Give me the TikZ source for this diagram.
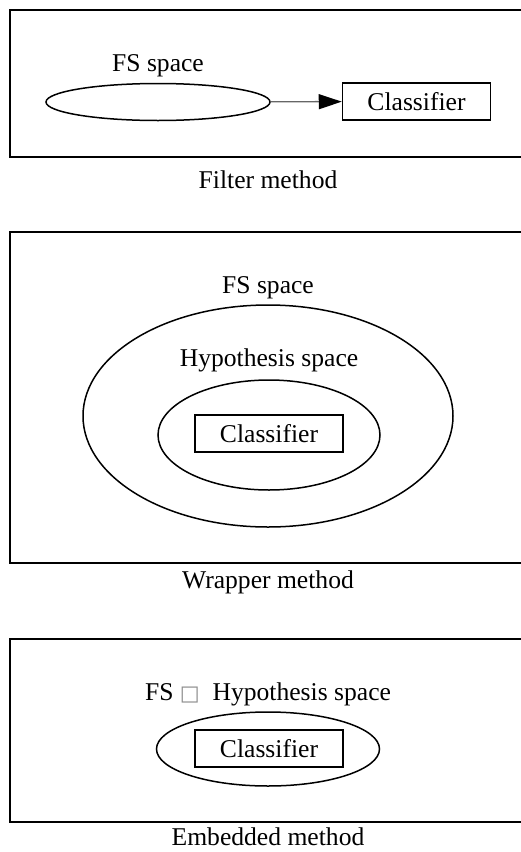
\documentclass[tikz,border=0pt]{standalone}
\usepackage{fontspec}
\setmainfont{Liberation Serif}
\newfontfamily\symfont{DejaVu Sans}
\usetikzlibrary{shapes.geometric,arrows.meta}
\begin{document}
\begin{tikzpicture}[x=1pt,y=-1pt,
  frame/.style={draw,line width=2pt},
  oval/.style={draw,ellipse,line width=1.5pt,inner sep=0pt},
  clsbox/.style={draw,rectangle,line width=1.5pt,minimum width=148pt,minimum height=37pt,inner sep=0pt,font=\fontsize{25.6}{30}\selectfont},
  lbl/.style={inner sep=0pt,font=\fontsize{25.6}{30}\selectfont},
  conn/.style={draw=black!60,line width=1.4pt,-{Triangle[length=23pt,width=15pt,fill=black,color=black]}}]
\useasboundingbox (0,0) rectangle (521,852);
\fill[white] (0,0) rectangle (521,852);
% Filter method
\draw[frame] (10,10) rectangle (540,157);
\node[oval,minimum width=224pt,minimum height=37pt] (fs1) at (158,102) {};
\node[lbl] (fs1l) at (158,66) {FS space};
\node[clsbox] (c1) at (416.5,101.5) {Classifier};
\draw[conn] (fs1) -- (c1);
\node[lbl] (cap1) at (268,180) {Filter method};
% Wrapper method
\draw[frame] (10,232) rectangle (540,563);
\node[oval,minimum width=370pt,minimum height=222pt] (fs2) at (268,416) {};
\node[lbl] (fs2l) at (268,288) {FS space};
\node[oval,minimum width=222pt,minimum height=110pt] (hs2) at (269,435) {};
\node[lbl] (hs2l) at (269,360) {Hypothesis space};
\node[clsbox] (c2) at (269,433.5) {Classifier};
\node[lbl] (cap2) at (268,582) {Wrapper method};
% Embedded method
\draw[frame] (10,639) rectangle (540,822);
\node[oval,minimum width=223pt,minimum height=74pt] (hs3) at (268,749) {};
\node[lbl] (hs3l) at (268,694) {FS {\symfont\color{black!45}\fontsize{21}{24}\selectfont □}\ \ Hypothesis space};
\node[clsbox] (c3) at (269,748.5) {Classifier};
\node[lbl] (cap3) at (268,837) {Embedded method};
\end{tikzpicture}
\end{document}
